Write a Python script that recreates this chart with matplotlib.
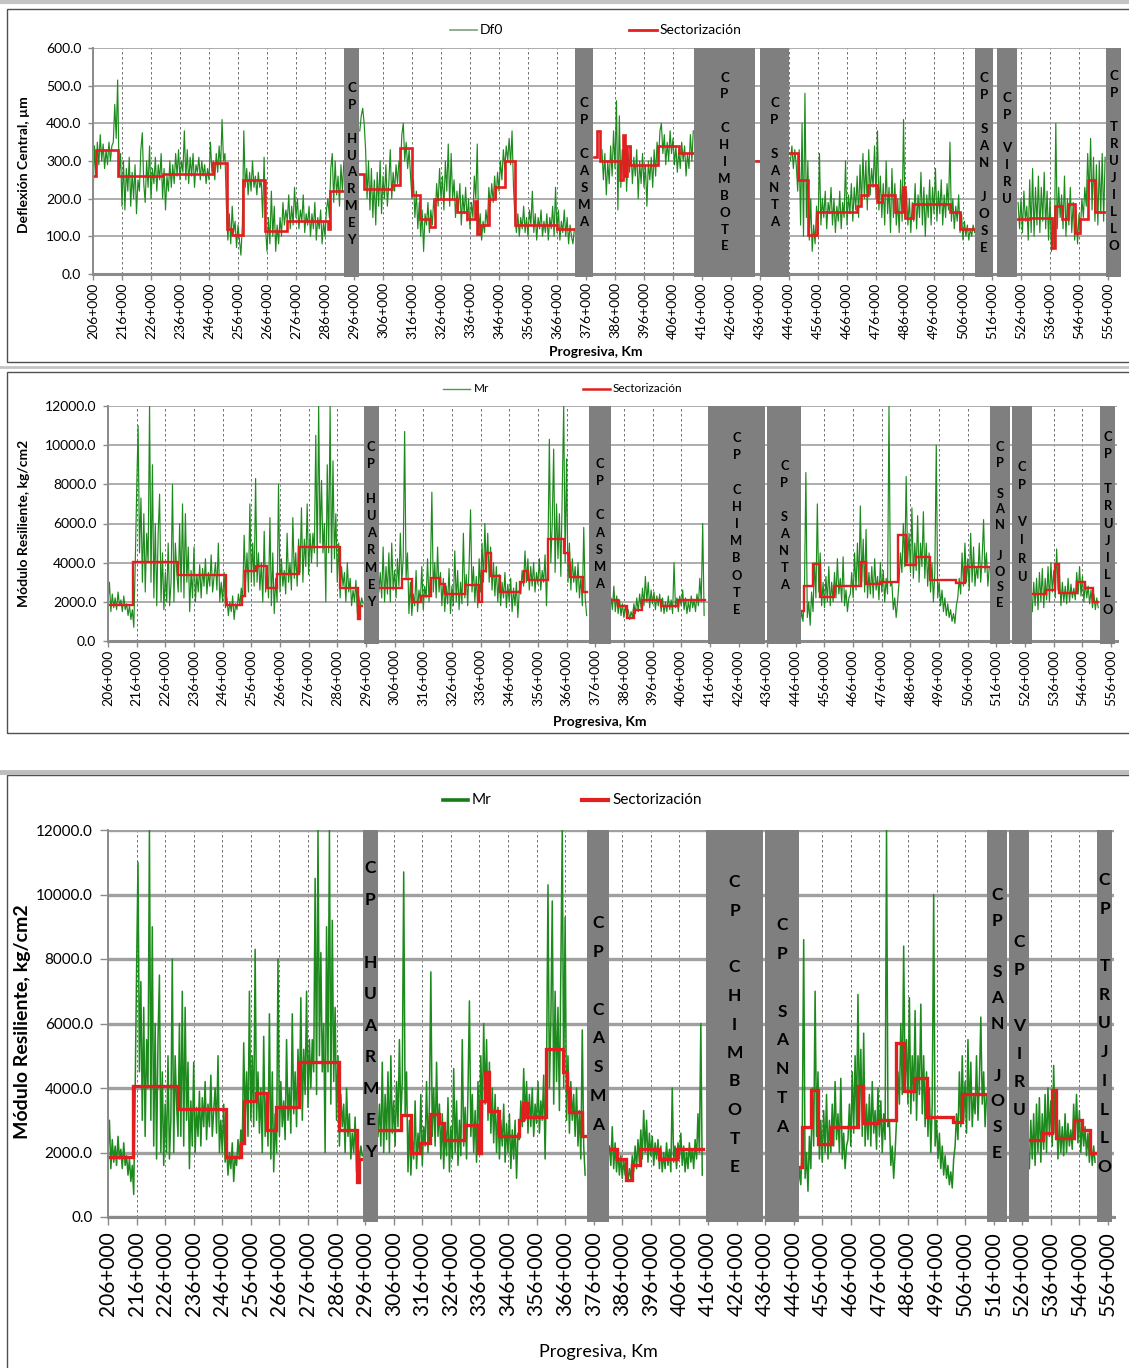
import numpy as np
import matplotlib
matplotlib.use('Agg')
import matplotlib.pyplot as plt
from matplotlib.patches import Rectangle
from matplotlib.lines import Line2D

plt.rcParams['font.family'] = ['Lato', 'DejaVu Sans']

# ---------------- DATA ----------------
STEP = 0.5  # km between readings

# Df0 (deflexion central, um) - segments start km
df0_seg_start = [206.0, 298.0, 381.5, 446.5, 525.0]
df0_seg1 = [200, 340, 260, 350, 290, 370, 300, 345, 280, 330, 290, 350, 300, 340, 350, 450, 360, 515,
            260, 320, 180, 300, 170, 280, 220, 310, 180, 270, 200, 290, 160, 250, 220, 330, 375, 240,
            190, 300, 230, 340, 200, 280, 240, 310, 220, 290, 250, 320, 200, 280, 170, 260, 220, 300,
            230, 290, 240, 320, 260, 330, 250, 300, 270, 380, 250, 330, 240, 310, 260, 320, 230, 290,
            270, 310, 250, 300, 260, 290, 240, 280, 250, 350, 270, 300, 250, 320, 270, 340, 280, 410,
            300, 320, 180, 90, 160, 80, 180, 110, 140, 70, 130, 90, 50, 130, 380, 230, 280, 210,
            270, 220, 300, 230, 260, 210, 270, 230, 250, 150, 310, 120, 60, 150, 80, 220, 100, 180,
            60, 130, 80, 150, 100, 190, 130, 170, 140, 210, 120, 180, 130, 230, 150, 200, 120, 170,
            140, 210, 110, 160, 130, 180, 100, 160, 120, 190, 90, 150, 120, 170, 80, 140, 100, 170,
            200, 150, 280, 320, 190, 300, 210, 260, 180, 290, 220, 300]
df0_seg2 = [380, 420, 440, 400, 330, 200, 300, 170, 280, 150, 250, 130, 270, 180, 300, 160, 260, 200,
            290, 180, 240, 330, 200, 270, 220, 290, 240, 300, 280, 370, 400, 300, 350, 280, 330, 260,
            200, 250, 150, 220, 120, 190, 100, 170, 60, 160, 130, 190, 110, 170, 130, 200, 150, 240,
            180, 280, 200, 260, 170, 300, 220, 345, 180, 320, 200, 250, 150, 220, 170, 240, 130, 210,
            160, 230, 140, 200, 120, 190, 150, 260, 200, 345, 110, 160, 90, 140, 110, 170, 130, 230,
            180, 240, 190, 260, 200, 270, 220, 300, 250, 330, 280, 340, 300, 360, 290, 380, 230, 150,
            110, 160, 100, 150, 120, 180, 110, 150, 100, 170, 130, 220, 110, 160, 90, 150, 120, 170,
            100, 140, 110, 160, 90, 150, 120, 180, 100, 230, 110, 170, 90, 140, 110, 170, 100, 150,
            80, 130, 100, 80, 120]
df0_seg3 = [330, 250, 320, 210, 300, 240, 340, 260, 380, 280, 460, 170, 420, 230, 330, 250, 360, 220,
            320, 270, 340, 240, 310, 260, 330, 200, 300, 240, 320, 230, 290, 180, 300, 250, 310, 230,
            330, 260, 350, 300, 380, 400, 320, 370, 290, 350, 300, 380, 320, 360, 290, 340, 270, 330,
            280, 350, 300, 340, 260, 320, 280, 370, 300, 380]
df0_seg4 = [300, 340, 280, 330, 290, 220, 330, 130, 400, 100, 480, 150, 300, 90, 200, 60, 130, 80,
            180, 110, 320, 130, 200, 150, 220, 120, 190, 160, 230, 130, 200, 110, 180, 140, 220, 120,
            190, 150, 300, 130, 210, 160, 240, 140, 230, 170, 260, 150, 290, 180, 320, 200, 300, 170,
            330, 210, 280, 230, 340, 200, 380, 170, 260, 150, 240, 130, 300, 160, 230, 110, 280, 150,
            240, 130, 200, 110, 250, 140, 410, 150, 220, 130, 200, 110, 190, 140, 240, 120, 210, 150,
            270, 130, 230, 100, 210, 150, 250, 130, 230, 160, 280, 140, 220, 160, 250, 130, 210, 150,
            240, 170, 350, 140, 200, 120, 180, 140, 210, 110, 160, 90, 140, 100, 130, 90, 120, 100,
            130, 110]
df0_seg5 = [190, 120, 200, 110, 220, 140, 180, 90, 250, 110, 280, 100, 230, 130, 260, 110, 230, 140,
            270, 120, 220, 90, 200, 60, 150, 70, 400, 120, 230, 150, 210, 120, 260, 100, 200, 130,
            230, 110, 190, 90, 170, 80, 160, 120, 200, 150, 230, 180, 320, 200, 360, 170, 310, 140,
            290, 130, 300, 160, 320, 140, 310]
df0_segments = [df0_seg1, df0_seg2, df0_seg3, df0_seg4, df0_seg5]

# Df0 sectorizacion (start km, end km, value)
df0_sec_start = [206.0, 207.0, 214.7, 230.3, 247.5, 252.1, 253.8, 257.8, 265.3, 272.8, 287.1, 287.7,
                 297.8, 299.5, 309.0, 311.9, 315.9, 318.8, 322.2, 324.0, 331.4, 334.9, 337.8, 338.5,
                 339.5, 342.4, 344.7, 348.1, 351.6, 365.9,
                 378.6, 379.8, 381.0, 387.8, 388.6, 389.4, 390.2, 391.2, 401.0, 407.9,
                 434.5,
                 446.1, 449.2, 452.7, 455.5, 469.3, 471.0, 473.4, 476.2, 478.0, 482.6, 485.4, 486.0,
                 488.9, 501.5, 505.0,
                 524.5, 529.1, 536.6, 537.7, 540.0, 542.3, 544.6, 546.3, 549.2, 551.5]
df0_sec_end = [207.0, 214.7, 230.3, 247.5, 252.1, 253.8, 257.8, 265.3, 272.8, 287.1, 287.7, 292.3,
               299.5, 309.0, 311.9, 315.9, 318.8, 322.2, 324.0, 331.4, 334.9, 337.8, 338.5, 339.5,
               342.4, 344.7, 348.1, 351.6, 365.9, 372.2,
               379.8, 381.0, 387.8, 388.6, 389.4, 390.2, 391.2, 401.0, 407.9, 413.0,
               436.0,
               449.2, 452.7, 455.5, 469.3, 471.0, 473.4, 476.2, 478.0, 482.6, 485.4, 486.0, 488.9,
               501.5, 505.0, 510.1,
               529.1, 536.6, 537.7, 540.0, 542.3, 544.6, 546.3, 549.2, 551.5, 555.0]
df0_sec_val = [260, 330, 260, 265, 295, 120, 103, 250, 115, 142, 120, 220,
               265, 225, 235, 335, 210, 145, 125, 200, 165, 145, 195, 105,
               130, 200, 230, 300, 130, 120,
               310, 380, 300, 250, 370, 260, 340, 290, 340, 320,
               300,
               320, 250, 103, 165, 180, 210, 235, 190, 210, 165, 230, 150,
               185, 165, 120,
               145, 150, 70, 180, 145, 185, 110, 145, 250, 165]

# Mr (modulo resiliente, kg/cm2)
mr_seg_start = [206.0, 300.5, 381.5, 447.5, 528.5]
mr_seg1 = [2000, 3000, 1500, 2400, 1700, 2200, 1600, 2500, 1800, 2100, 1500, 2300, 1600, 1900, 1300,
           1800, 1100, 1600, 700, 3900, 7600, 11000, 4500, 7300, 3000, 6500, 2500, 5500, 4000, 12000,
           3000, 9000, 2200, 6000, 1800, 5500, 7500, 2000, 4500, 1600, 3500, 2000, 5000, 1800, 3000,
           8000, 2000, 5000, 3500, 2500, 6000, 2500, 7000, 2200, 6500, 3000, 4800, 1500, 3600, 2200,
           4800, 2000, 3400, 2500, 3900, 2200, 3700, 2800, 4200, 2400, 3500, 2800, 4400, 2500, 3300,
           4000, 2600, 5000, 2000, 3000, 2000, 3500, 1700, 2200, 1300, 2000, 1500, 2300, 1100, 1900,
           1600, 2400, 1800, 2700, 2200, 5400, 3000, 4500, 2500, 7000, 3000, 5000, 2800, 8300, 3000,
           4500, 2600, 4000, 2000, 5600, 2500, 3800, 2200, 6300, 1800, 4500, 1400, 3200, 2000, 8000,
           2500, 4200, 2800, 3600, 2400, 5500, 3000, 4000, 2600, 6300, 3200, 4500, 2800, 5200, 3500,
           6800, 3000, 5200, 3800, 7000, 3400, 5500, 4000, 5500, 4500, 10500, 3800, 12000, 5000, 8200,
           4500, 6000, 2000, 9000, 4500, 12000, 3500, 9200, 4200, 6500, 3000, 5000, 2200, 3800, 2800,
           3500, 2000, 4000, 2500, 3200, 1800, 2600, 2000, 3100, 1400, 2300, 1700, 2200, 1900]
mr_seg2 = [2500, 3500, 2200, 4800, 2000, 3800, 2400, 4500, 2000, 5000, 2600, 3600, 2200, 4200, 2800,
           5500, 3000, 4200, 10700, 3200, 4500, 1400, 3000, 1300, 2400, 1800, 3600, 1500, 2600, 2000,
           3800, 1600, 2800, 2200, 4200, 2000, 3500, 7600, 2500, 4000, 2200, 4800, 2500, 3500, 1800,
           3200, 1500, 2800, 1900, 3700, 1400, 2800, 1800, 4600, 2000, 3600, 1600, 3000, 1900, 5500,
           2200, 3400, 1800, 3900, 6700, 2500, 3800, 2000, 3300, 1700, 4200, 2500, 5000, 3000, 6000,
           3500, 5500, 3000, 4800, 2600, 4000, 2300, 3800, 2000, 3400, 1800, 3000, 2200, 3500, 1700,
           2900, 2000, 3200, 1500, 2700, 1800, 3000, 1200, 2600, 2400, 3600, 2800, 4600, 3000, 4200,
           2600, 3800, 2800, 4000, 2500, 3500, 2900, 4200, 2600, 3600, 3000, 4400, 1800, 4500, 10300,
           4000, 6000, 9800, 3500, 7000, 4200, 6500, 3300, 7500, 12000, 4000, 9300, 3000, 5000, 2600,
           4200, 3000, 3800, 2500, 4000, 2200, 3300, 1800, 5800, 2200, 1300]
mr_seg3 = [2200, 1600, 2800, 1500, 2300, 1400, 2100, 1300, 1900, 1200, 1800, 1300, 1600, 1100, 1500,
           1200, 1900, 1400, 2200, 1500, 2400, 1700, 2700, 1800, 3300, 2000, 3000, 1700, 2600, 1900,
           2500, 1600, 2300, 1800, 2400, 1500, 2200, 1400, 2000, 1500, 2300, 1600, 2100, 1400, 4000,
           1700, 2200, 1500, 2300, 1800, 2600, 1600, 2200, 1400, 2000, 1500, 2300, 1700, 2100, 1500,
           2400, 1800, 3200, 2000, 6000, 1300]
mr_seg4 = [900, 1500, 1000, 2500, 8600, 1200, 2000, 800, 2500, 1500, 4000, 2200, 7000, 2500, 4500,
           1800, 3000, 1700, 3300, 2000, 3800, 1800, 3000, 2000, 3500, 2200, 4200, 2400, 3200, 2000,
           4300, 1800, 2600, 1500, 2200, 2400, 3500, 2200, 4500, 2600, 5000, 2800, 6900, 3000, 5200,
           2500, 5700, 2200, 3500, 2400, 3800, 2200, 4200, 2600, 3300, 2100, 4000, 2500, 3600, 2000,
           3200, 2400, 12000, 2800, 3000, 1600, 2200, 1200, 2000, 3000, 4500, 3500, 6000, 3800, 8400,
           4000, 5500, 3500, 6800, 3200, 5000, 3600, 6400, 3000, 5000, 3800, 6600, 3200, 5000, 2800,
           4500, 2500, 4000, 2000, 3500, 10000, 2200, 3000, 1800, 2600, 1500, 2200, 1300, 1900, 1200,
           1600, 1000, 1400, 900, 1800, 2200, 3200, 2400, 4500, 2800, 5000, 3000, 4200, 2600, 5500,
           3000, 4800, 2800, 3800, 3200, 5000, 3000, 4200, 6200, 3500, 4500, 2800, 3800]
mr_seg5 = [1500, 3000, 1800, 3200, 1600, 3500, 2000, 3700, 1700, 3200, 2100, 3800, 2000, 4000, 2500,
           3600, 2200, 4700, 2600, 3400, 1800, 3000, 2000, 2800, 1900, 3200, 2000, 2900, 2200, 2700,
           2100, 3500, 2400, 3800, 2300, 3300, 2000, 3000, 2200, 2800, 1900, 2600, 1700, 2400, 1600,
           2200, 1700]
mr_segments = [mr_seg1, mr_seg2, mr_seg3, mr_seg4, mr_seg5]

mr_sec_start = [206.0, 214.8, 230.4, 247.2, 252.6, 253.7, 257.8, 261.5, 264.9, 272.8, 286.8, 293.3, 293.8,
                300.4, 308.6, 312.1, 315.1, 318.6, 321.9, 323.7, 330.7, 335.5, 336.5, 337.8, 339.5,
                342.9, 349.8, 351.2, 352.5, 359.4, 365.2, 366.7, 367.3, 371.9,
                381.2, 384.0, 387.2, 389.5, 392.2, 399.0, 405.0,
                447.5, 449.0, 452.1, 454.6, 459.2, 468.6, 470.4, 475.5, 481.8, 484.6, 488.0, 492.7,
                501.8, 504.9,
                528.5, 533.4, 536.4, 537.9, 544.0, 546.9, 549.8]
mr_sec_end = [214.8, 230.4, 247.2, 252.6, 253.7, 257.8, 261.5, 264.9, 272.8, 286.8, 293.3, 293.8, 294.5,
              308.6, 312.1, 315.1, 318.6, 321.9, 323.7, 330.7, 335.5, 336.5, 337.8, 339.5, 342.9,
              349.8, 351.2, 352.5, 359.4, 365.2, 366.7, 367.3, 371.9, 373.0,
              384.0, 387.2, 389.5, 392.2, 399.0, 405.0, 414.3,
              449.0, 452.1, 454.6, 459.2, 468.6, 470.4, 475.5, 481.8, 484.6, 488.0, 492.7, 501.8,
              504.9, 513.5,
              533.4, 536.4, 537.9, 544.0, 546.9, 549.8, 551.6]
mr_sec_val = [1850, 4050, 3350, 1850, 2300, 3600, 3850, 2700, 3400, 4800, 2700, 1100, 1800,
              2700, 3150, 2000, 2300, 3200, 2900, 2400, 2850, 2000, 3600, 4500, 3300,
              2500, 3000, 3550, 3100, 5200, 4500, 4000, 3250, 2500,
              2100, 1800, 1150, 1600, 2100, 1800, 2100,
              1550, 2800, 3950, 2250, 2800, 4050, 2900, 3000, 5400, 3900, 4300, 3100,
              2950, 3800,
              2400, 2600, 3950, 2450, 3000, 2700, 2000]

# Closed sections (centros poblados)
band_names = ['CP HUARMEY', 'CP CASMA', 'CP CHIMBOTE', 'CP SANTA', 'CP SAN JOSE', 'CP VIRU', 'CP TRUJILLO']
df0_band_start = [292.6, 372.2, 413.1, 436.0, 510.1, 517.6, 555.4]
df0_band_end = [297.7, 378.5, 434.4, 446.0, 516.4, 524.5, 560.5]
mr_band_start = [295.3, 373.7, 415.3, 436.1, 513.7, 521.4, 552.2]
mr_band_end = [300.4, 381.4, 435.3, 447.9, 520.7, 528.4, 557.4]

xtick_km = list(range(206, 557, 10))
xtick_labels = [f"{k}+000" for k in xtick_km]

# ---------------- FIGURE ----------------
W, H = 1129, 1368
fig = plt.figure(figsize=(W / 100, H / 100), dpi=100)
fig.patch.set_facecolor('white')

GREEN = '#1d8a1d'
RED = '#e31e1e'
BAND = '#7f7f7f'


def fx(px):
    return px / W


def fy(py):
    return 1 - py / H


def series_xy(starts, segs):
    xs, ys = [], []
    for s, seg in zip(starts, segs):
        x = s + STEP * np.arange(len(seg))
        xs.extend(list(x) + [np.nan])
        ys.extend(list(seg) + [np.nan])
    return np.array(xs), np.array(ys)


def step_xy(st, en, val):
    xs, ys = [], []
    prev = None
    for s, e, v in zip(st, en, val):
        if prev is not None and abs(s - prev) > 1e-6:
            xs.append(np.nan)
            ys.append(np.nan)
        xs += [s, e]
        ys += [v, v]
        prev = e
    return xs, ys


def letters(name):
    out = []
    for i, w in enumerate(name.split(' ')):
        if i > 0:
            out.append(' ')
        out.extend(list(w))
    return out


def panel(left, top, bottom, pxkm, xmax, ymax, ystep, seg_start, segs, sst, sen, sval,
          bst, ben, label_cy, label_sp, label_fs, tick_fs, xtick_fs, green_lw, red_lw,
          hgrid_lw, xpad, ylen, xlen):
    right = left + (xmax - 206) * pxkm
    ax = fig.add_axes([fx(left), fy(bottom), (right - left) / W, (bottom - top) / H])
    ax.set_xlim(206, xmax)
    ax.set_ylim(0, ymax)
    x, y = series_xy(seg_start, segs)
    ax.plot(x, y, color=GREEN, lw=green_lw, zorder=2)
    rx, ry = step_xy(sst, sen, sval)
    ax.plot(rx, ry, color=RED, lw=red_lw, zorder=2.5, solid_joinstyle='miter')
    yt = np.arange(0, ymax + 1, ystep)
    ax.set_yticks(yt)
    ax.set_yticklabels([f"{v:.1f}" for v in yt])
    ax.set_xticks(xtick_km)
    ax.set_xticklabels(xtick_labels, rotation=90)
    ax.yaxis.grid(True, color='#a0a0a0', lw=hgrid_lw, ls='-')
    ax.xaxis.grid(True, color='#5a5a5a', lw=0.6, ls=(0, (3, 3)))
    ax.set_axisbelow(True)
    for s in ['top', 'right']:
        ax.spines[s].set_visible(False)
    ax.spines['left'].set_color('#8a8a8a')
    ax.spines['left'].set_linewidth(1.4)
    ax.spines['bottom'].set_color('#8a8a8a')
    ax.spines['bottom'].set_linewidth(2.2)
    ax.tick_params(axis='y', length=ylen, width=1, color='#8a8a8a', labelsize=tick_fs, pad=5)
    ax.tick_params(axis='x', length=xlen, width=1, color='#8a8a8a', labelsize=xtick_fs, pad=xpad)
    for lab in ax.get_xticklabels():
        lab.set_va('top')
    # closed sections
    for i, (s, e) in enumerate(zip(bst, ben)):
        ax.add_patch(Rectangle((s, -0.012), e - s, 1.012, transform=ax.get_xaxis_transform(),
                               facecolor=BAND, edgecolor='none', zorder=3, clip_on=False))
        lets = letters(band_names[i])
        n = len(lets)
        yfrac = (bottom - label_cy[i]) / (bottom - top)
        sp = label_sp[i] if isinstance(label_sp, list) else label_sp
        for j, ch in enumerate(lets):
            if ch == ' ':
                continue
            off = -(j - (n - 1) / 2) * sp * 0.72
            ax.annotate(ch, xy=((s + e) / 2, yfrac), xycoords=('data', 'axes fraction'),
                        xytext=(0, off), textcoords='offset points', ha='center', va='center',
                        fontsize=label_fs, fontweight='bold', color='black', zorder=4,
                        annotation_clip=False)
    return ax


# panel frames
fig.add_artist(Line2D([0, 1], [fy(2), fy(2)], color='#c4c4c4', lw=3))
fig.add_artist(Rectangle((fx(7), fy(362)), fx(1140) - fx(7), fy(9) - fy(362), transform=fig.transFigure,
                         fill=False, ec='#505050', lw=1))
fig.add_artist(Line2D([0, 1], [fy(367), fy(367)], color='#c4c4c4', lw=2))
fig.add_artist(Rectangle((fx(7), fy(733)), fx(1140) - fx(7), fy(372) - fy(733), transform=fig.transFigure,
                         fill=False, ec='#505050', lw=1))
fig.add_artist(Line2D([0, 1], [fy(772), fy(772)], color='#bdbdbd', lw=3.5))
fig.add_artist(Rectangle((fx(7), fy(1380)), fx(1140) - fx(7), fy(775) - fy(1380), transform=fig.transFigure,
                         fill=False, ec='#505050', lw=1))

# Panel 1: Df0
panel(93, 48, 274, 2.9, 557.5, 600, 100, df0_seg_start, df0_segments,
      df0_sec_start, df0_sec_end, df0_sec_val, df0_band_start, df0_band_end,
      [164, 162.5, 162, 162.5, 163, 148.5, 161], 16.9, 9.5, 10, 10,
      0.85, 1.9, 1.2, 2, 3.5, 4)
# Panel 2: Mr
panel(108, 406, 641, 2.866, 558, 12000, 2000, mr_seg_start, mr_segments,
      mr_sec_start, mr_sec_end, mr_sec_val, mr_band_start, mr_band_end,
      [524.5, 524, 524, 525.5, 525, 522, 523.5], [17.2, 17.2, 17.2, 17.0, 15.6, 18.3, 17.3],
      9.3, 10, 10, 0.85, 1.7, 1.2, 2, 3.5, 4)
# Panel 3: Mr (large)
panel(108, 830, 1217, 2.857, 558, 12000, 2000, mr_seg_start, mr_segments,
      mr_sec_start, mr_sec_end, mr_sec_val, mr_band_start, mr_band_end,
      [1010, 1024, 1024.5, 1026, 1024, 1026, 1023.5], [31.5, 28.9, 28.5, 28.9, 25.8, 28.0, 28.7],
      12.5, 11, 15, 1.1, 2.4, 2.4, 4, 6, 6)

# axis titles
fig.text(fx(24), fy(165), 'Deflexión Central, µm', rotation=90, ha='center', va='center',
         fontsize=10, fontweight='bold')
fig.text(fx(596), fy(352), 'Progresiva, Km', ha='center', va='center', fontsize=10, fontweight='bold')
fig.text(fx(24), fy(523), 'Módulo Resiliente, kg/cm2', rotation=90, ha='center', va='center',
         fontsize=10, fontweight='bold')
fig.text(fx(600), fy(722), 'Progresiva, Km', ha='center', va='center', fontsize=10, fontweight='bold')
fig.text(fx(23), fy(1022), 'Módulo Resiliente, kg/cm2', rotation=90, ha='center', va='center',
         fontsize=14, fontweight='bold')
fig.text(fx(598), fy(1352), 'Progresiva, Km', ha='center', va='center', fontsize=13)


def legend_item(x0, x1, y, color, lw, text, tx, fs):
    fig.add_artist(Line2D([fx(x0), fx(x1)], [fy(y), fy(y)], color=color, lw=lw))
    fig.text(fx(tx), fy(y), text, ha='left', va='center', fontsize=fs)


legend_item(450, 477, 30, '#7da27d', 1.2, 'Df0', 480, 10)
legend_item(629, 657, 30, RED, 2.0, 'Sectorización', 660, 10)
legend_item(443, 470, 389, '#4d9a4d', 1.0, 'Mr', 474, 8.5)
legend_item(583, 610, 389, RED, 1.8, 'Sectorización', 613, 8.5)
legend_item(443, 468, 800, '#1a7a1a', 2.6, 'Mr', 472, 11)
legend_item(582, 608, 800, RED, 3.0, 'Sectorización', 612, 11)

fig.savefig('out.png', dpi=100, facecolor='white')
